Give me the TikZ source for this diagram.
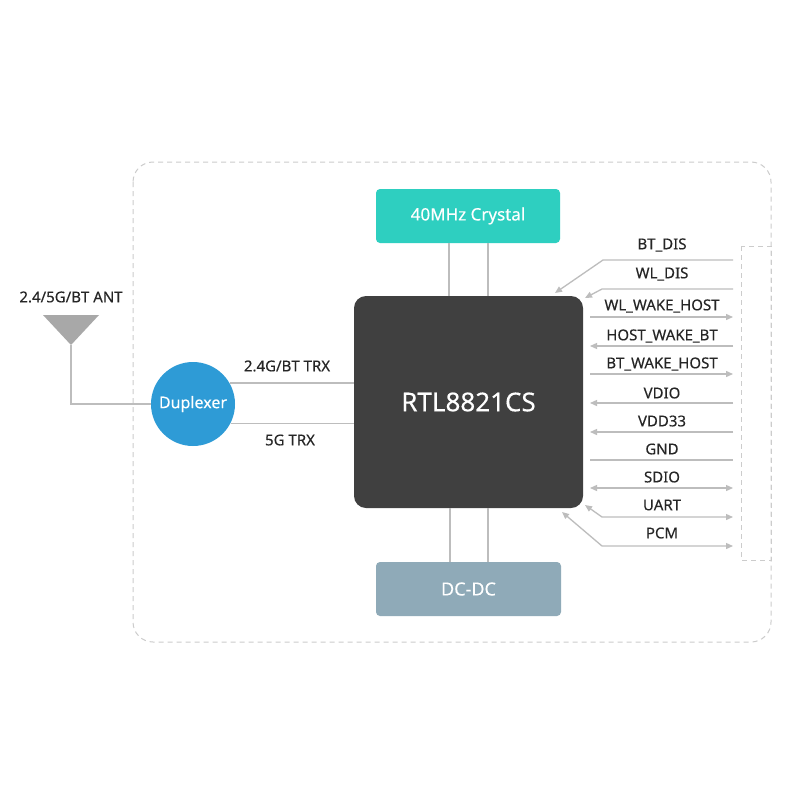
\documentclass[tikz,border=0pt]{standalone}
\usepackage{fontspec}
\setmainfont{Noto Sans}[FakeBold=0.25]
\usetikzlibrary{arrows.meta,calc}
\definecolor{txt}{HTML}{262626}
\definecolor{ln}{HTML}{BDBDBD}
\definecolor{dsh}{HTML}{CCCCCC}
\definecolor{teal}{HTML}{2ECFC0}
\definecolor{chip}{HTML}{404040}
\definecolor{dcdc}{HTML}{8FAAB8}
\definecolor{dup}{HTML}{2E9BD6}
\definecolor{ant}{HTML}{A8A8A8}
\tikzset{
  wire/.style={draw=ln, line width=1.3pt},
  tip/.style={-{Triangle[length=7pt,width=6pt]}},
  both/.style={{Triangle[length=7pt,width=6pt]}-{Triangle[length=7pt,width=6pt]}},
  sig/.style={font=\fontsize{15}{18}\selectfont, text=txt, inner sep=0pt},
  blk/.style={inner sep=0pt, text=white, font=\fontsize{17}{20}\selectfont},
  dashbox/.style={draw=dsh, line width=1pt, dash pattern=on 5pt off 4pt},
}
\begin{document}
\begin{tikzpicture}[x=1pt,y=-1pt]
\useasboundingbox[fill=white] (0,0) rectangle (800,800);
% outer dashed frame
\draw[dashbox, rounded corners=20pt] (133,162) rectangle (771,642);
\draw[dashbox] (741,246) rectangle (771,560);
% blocks
\node (xtal) [blk, fill=teal, rounded corners=4pt, minimum width=184pt, minimum height=54pt] at (468,216) {40MHz Crystal};
\node (chip) [blk, fill=chip, rounded corners=12pt, minimum width=229pt, minimum height=212pt, font=\fontsize{26}{30}\selectfont] at (468.5,402) {RTL8821CS};
\node (dcdc) [blk, fill=dcdc, rounded corners=4pt, minimum width=185pt, minimum height=54pt, font=\fontsize{18}{20}\selectfont] at (468.5,589) {DC-DC};
\node (dup) [blk, circle, fill=dup, minimum size=84pt, font=\fontsize{16}{18}\selectfont] at (193,404) {Duplexer};
% antenna
\coordinate (apex) at (71,345);
\fill[ant] (43,315) -- (99,315) -- (apex) -- cycle;
\node (antl) [sig] at (71,297) {2.4/5G/BT ANT};
\draw[wire] (apex) -- (71,404) -- (dup.west);
% duplexer to chip
\draw[wire] (dup.30) -- (chip.west |- dup.30);
\draw[wire] (dup.-27) -- (chip.west |- dup.-27);
\node (trx24) [sig] at (287,366) {2.4G/BT TRX};
\node (trx5) [sig] at (290,440) {5G TRX};
% crystal & dcdc links
\draw[wire] (xtal.south -| 449,0) -- (chip.north -| 449,0);
\draw[wire] (xtal.south -| 488,0) -- (chip.north -| 488,0);
\draw[wire] (chip.south -| 450,0) -- (dcdc.north -| 450,0);
\draw[wire] (chip.south -| 488,0) -- (dcdc.north -| 488,0);
% right-side signals
\coordinate (btdis) at (555,293);
\coordinate (wldis) at (585,298);
\coordinate (uartt) at (585,505);
\coordinate (pcmt) at (562,512);
\draw[wire, tip] (733,260) -- (603,260) -- (btdis);
\draw[wire, tip] (733,289) -- (602,289) -- (wldis);
\draw[wire, tip] (590,317) -- (733,317);
\draw[wire, tip] (733,346) -- (590,346);
\draw[wire, tip] (590,374) -- (733,374);
\draw[wire, tip] (733,403) -- (590,403);
\draw[wire, tip] (733,432) -- (590,432);
\draw[wire] (590,460) -- (733,460);
\draw[wire, both] (590,488) -- (733,488);
\draw[wire, both] (uartt) -- (602,517) -- (733,517);
\draw[wire, both] (pcmt) -- (602,546) -- (733,546);
\node (l1) [sig] at (662,245) {BT\_DIS};
\node (l2) [sig] at (662,274) {WL\_DIS};
\node (l3) [sig] at (662,306) {WL\_WAKE\_HOST};
\node (l4) [sig] at (662,336) {HOST\_WAKE\_BT};
\node (l5) [sig] at (662,364) {BT\_WAKE\_HOST};
\node (l6) [sig] at (662,393) {VDIO};
\node (l7) [sig] at (662,421) {VDD33};
\node (l8) [sig] at (662,449) {GND};
\node (l9) [sig] at (662,477) {SDIO};
\node (l10) [sig] at (662,505) {UART};
\node (l11) [sig] at (662,533) {PCM};
\end{tikzpicture}
\end{document}
